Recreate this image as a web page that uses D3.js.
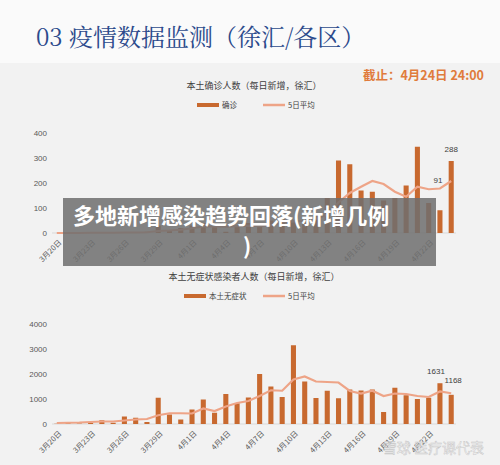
<!DOCTYPE html>
<html><head><meta charset="utf-8">
<script src="https://cdn.jsdelivr.net/npm/d3@7"></script>
<style>body{margin:0;background:#f2f2f2}svg{display:block}</style>
</head><body><svg id="c" width="500" height="465"></svg>
<script>
const dates = ["3月20日","3月21日","3月22日","3月23日","3月24日","3月25日","3月26日","3月27日","3月28日","3月29日","3月30日","3月31日","4月1日","4月2日","4月3日","4月4日","4月5日","4月6日","4月7日","4月8日","4月9日","4月10日","4月11日","4月12日","4月13日","4月14日","4月15日","4月16日","4月17日","4月18日","4月19日","4月20日","4月21日","4月22日","4月23日","4月24日"];
const confirmed = [0,0,1,0,2,1,3,2,5,30,10,20,30,40,30,5,30,40,30,50,60,50,50,70,140,290,275,170,165,130,140,190,345,120,91,288];
const confirmedAvg = [0,0,0,1,1,1,2,2,3,8,10,13,19,26,26,25,27,29,27,31,42,46,48,56,74,122,160,185,208,196,165,145,185,175,178,208];
const asym = [10,30,20,40,150,50,300,250,80,1050,380,180,580,980,450,1200,830,1060,2000,1500,1080,3150,1700,1040,1330,1030,1380,1340,1380,480,1450,1150,1000,1050,1631,1168];
const asymAvg = [40,50,60,80,100,100,140,180,200,350,430,430,420,620,520,700,840,920,1120,1350,1330,1780,1900,1700,1680,1660,1320,1220,1330,1120,1220,1200,1120,1080,1300,1230];
const topTicks = [0,100,200,300,400];
const botTicks = [0,1000,2000,3000,4000];

const svg = d3.select("#c");
const font = "'Noto Sans CJK SC', sans-serif";
svg.append("rect").attr("width",500).attr("height",63).attr("fill","#fafafa");
svg.append("text").attr("x",36).attr("y",46).attr("font-family","'Noto Serif CJK SC','Noto Sans CJK SC',serif")
  .attr("font-size",24).attr("fill","#2c4a8c").text("03 疫情数据监测（徐汇/各区）");
svg.append("text").attr("x",484).attr("y",80).attr("text-anchor","end").attr("font-family",font)
  .attr("font-size",12.5).attr("font-weight","bold").attr("fill","#e07b3c").text("截止：4月24日 24:00");

const barC = "#c8692f", lineC = "#eea487";
function chart(y0, y1, title, barName, bars, avg, ticks, ymax, labels) {
  const x = d3.scaleBand().domain(dates).range([52,456]).paddingInner(0.55).paddingOuter(0.2);
  const y = d3.scaleLinear().domain([0,ymax]).range([y1,y0]);
  svg.append("text").attr("x",254).attr("y",y0-44).attr("text-anchor","middle").attr("font-family",font)
    .attr("font-size",9).attr("fill","#404040").text(title);
  const lg = svg.append("g").attr("font-family",font).attr("font-size",7.5).attr("fill","#404040");
  const lx = barName.length>2 ? 184 : 197;
  lg.append("rect").attr("x",lx).attr("y",y0-30).attr("width",22).attr("height",4).attr("fill",barC);
  lg.append("text").attr("x",lx+25).attr("y",y0-25).text(barName);
  lg.append("line").attr("x1",263).attr("x2",285).attr("y1",y0-28).attr("y2",y0-28).attr("stroke",lineC).attr("stroke-width",2.5);
  lg.append("text").attr("x",288).attr("y",y0-25).text("5日平均");
  const ax = svg.append("g").attr("transform","translate(47,0)")
    .call(d3.axisLeft(y).tickValues(ticks).tickFormat(d3.format("d")).tickSize(0).tickPadding(0));
  ax.select(".domain").remove();
  ax.selectAll("text").attr("font-family","Arial, sans-serif").attr("font-size",8).attr("fill","#595959");
  svg.append("line").attr("x1",52).attr("x2",456).attr("y1",y(0)).attr("y2",y(0)).attr("stroke","#d9d9d9");
  svg.append("g").selectAll("rect").data(bars).join("rect")
    .attr("x",(d,i)=>x(dates[i])).attr("width",x.bandwidth()).attr("y",d=>y(d)).attr("height",d=>y(0)-y(d)).attr("fill",barC);
  svg.append("path").datum(avg).attr("fill","none").attr("stroke",lineC).attr("stroke-width",2.2)
    .attr("d",d3.line().x((d,i)=>x(dates[i])+x.bandwidth()/2).y(d=>y(d)));
  const xa = svg.append("g").attr("transform",`translate(0,${y(0)+2})`)
    .call(d3.axisBottom(x).tickValues(dates.filter((d,i)=>i%3===0)).tickSize(0).tickPadding(0));
  xa.select(".domain").remove();
  xa.selectAll("text").attr("font-family",font).attr("font-size",7.5).attr("fill","#595959")
    .attr("text-anchor","end").attr("transform","rotate(-45) translate(-2,4)");
  labels.forEach(([i,dx,dy])=>{
    svg.append("text").attr("x",x(dates[i])+x.bandwidth()/2+dx).attr("y",y(bars[i])+dy).attr("text-anchor","middle")
      .attr("font-family","Arial, sans-serif").attr("font-size",8).attr("fill","#404040").text(bars[i]);
  });
}
chart(133,233,"本土确诊人数（每日新增，徐汇）","确诊",confirmed,confirmedAvg,topTicks,400,[[34,-2,-27],[35,0,-9]]);
chart(324,424,"本土无症状感染者人数（每日新增，徐汇）","本土无症状",asym,asymAvg,botTicks,4000,[[34,-4,-9],[35,2,-12]]);

svg.append("rect").attr("x",63).attr("y",198).attr("width",373).attr("height",68).attr("fill","#6e6e6e").attr("opacity",0.85);
svg.append("text").attr("x",73).attr("y",224).attr("font-family",font).attr("font-weight","bold").attr("font-size",22)
  .attr("fill","#fff").text("多地新增感染趋势回落(新增几例");
svg.append("text").attr("x",243).attr("y",254).attr("font-family",font).attr("font-weight","bold").attr("font-size",22)
  .attr("fill","#fff").text(")");
svg.append("text").attr("x",484).attr("y",453).attr("text-anchor","end").attr("font-family",font).attr("font-size",14)
  .attr("fill","#fff").attr("opacity",0.8).attr("stroke","#bbb").attr("stroke-width",0.5).text("雪球  医疗课代表");
</script></body></html>
